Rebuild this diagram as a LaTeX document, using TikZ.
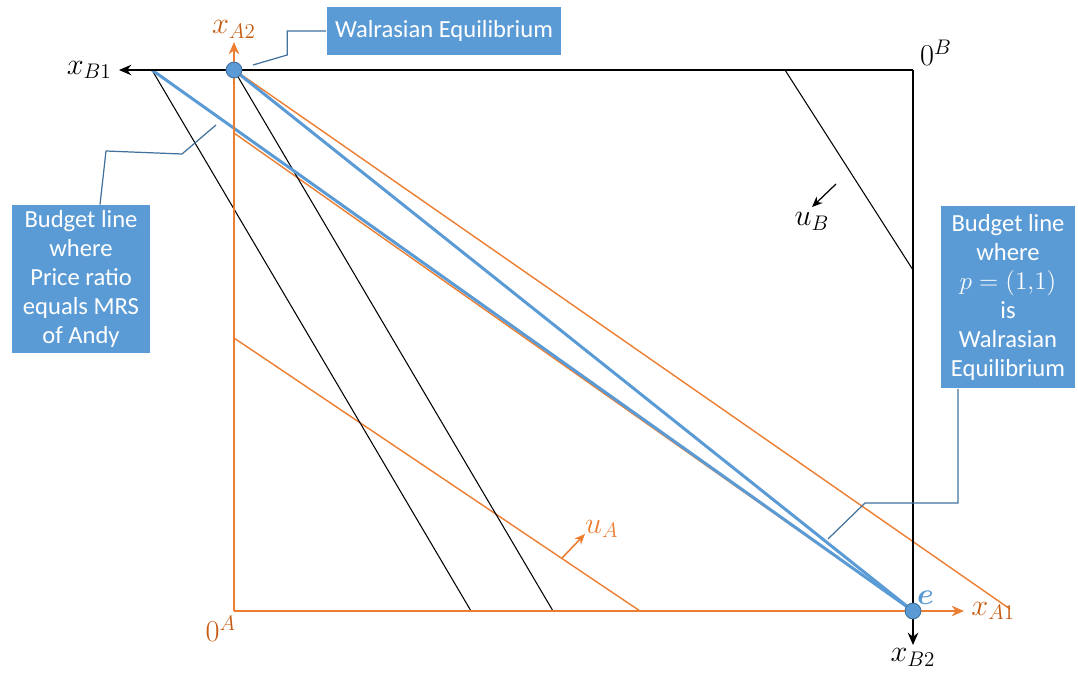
\documentclass[tikz,border=0pt]{standalone}
\usepackage{amsmath}
\usepackage{fontspec}
\setmainfont{Carlito}
\usepackage{tikz}
\usetikzlibrary{positioning,arrows.meta}
\definecolor{boxblue}{HTML}{5B9BD5}
\definecolor{leadblue}{HTML}{41719C}
\definecolor{axorange}{HTML}{ED7D31}
\definecolor{lblorange}{HTML}{C55A11}
\tikzset{every node/.style={font=\fontsize{14}{16.5}\selectfont}}

\begin{document}
\begin{tikzpicture}[
  x=0.02cm, y=-0.02cm,
  callout/.style={fill=boxblue, text=white, align=center, inner sep=2pt},
  leader/.style={draw=leadblue, line width=0.7pt},
  budget/.style={draw=boxblue, line width=1.7pt},
  indiffA/.style={draw=axorange, line width=0.8pt},
  indiffB/.style={draw=black, line width=0.6pt},
  axis/.style={line width=0.9pt, -{Stealth[length=7pt,width=6pt]}},
  mlabel/.style={font=\fontsize{17.5}{20}\selectfont, inner sep=1pt},
  dot/.style={circle, fill=boxblue, draw=leadblue, line width=0.5pt, inner sep=0pt, minimum size=9pt}
]
\useasboundingbox (0,0) rectangle (1078,676);

\coordinate (oA) at (234,611);
\coordinate (oB) at (913,70);
\coordinate (a1tip) at (964,611);
\coordinate (a2tip) at (234,42);
\coordinate (b1tip) at (119,70);
\coordinate (b2tip) at (913,645);

% indifference curves of A
\draw[indiffA] (236,71) -- (1010,609);
\draw[indiffA] (234,133) -- (913,611);
\draw[indiffA] (234,338) -- (640,611);

% indifference curves of B
\draw[indiffB] (152,70) -- (471,611);
\draw[indiffB] (234,70) -- (553,611);
\draw[indiffB] (785,70) -- (913,270);

% budget lines
\draw[budget] (152,70) -- (913,611);
\draw[budget] (234,70) -- (913,611);

% axes
\draw[axis, axorange] (oA) -- (a1tip);
\draw[axis, axorange] (oA) -- (a2tip);
\draw[axis, black] (oB) -- (b1tip);
\draw[axis, black] (oB) -- (b2tip);

\node[mlabel, text=lblorange, right=3pt of a1tip] (xa1) {$x_{A1}$};
\node[mlabel, text=lblorange, above=1pt of a2tip] (xa2) {$x_{A2}$};
\node[mlabel, left=3pt of b1tip] (xb1) {$x_{B1}$};
\node[mlabel, below=1pt of b2tip] (xb2) {$x_{B2}$};
\node[mlabel, anchor=south west] (zb) at (918,68) {$0^B$};
\node[mlabel, text=lblorange, anchor=north east] (za) at (238,614) {$0^A$};

% preference directions
\coordinate (uas) at (562,558);
\coordinate (uae) at (585,534);
\draw[axorange, line width=0.9pt, -{Stealth[length=6pt,width=5pt]}] (uas) -- (uae);
\node[mlabel, text=axorange, anchor=south west] (ua) at (583,540) {$u_A$};
\coordinate (ubs) at (836,184);
\coordinate (ube) at (812,207);
\draw[line width=0.7pt, -{Stealth[length=6pt,width=5pt]}] (ubs) -- (ube);
\node[mlabel, below=2pt of ube] (ub) {$u_B$};

% endowment and equilibrium
\node[dot] (wal) at (234,70) {};
\node[dot] (eq) at (913,611) {};
\node[mlabel, text=boxblue, anchor=south west] (el) at (915,607) {$\boldsymbol{e}$};

% callouts
\node[callout, minimum width=4.7cm, minimum height=0.96cm] (wbox) at (444,31)
{Walrasian Equilibrium};
\node[callout, minimum width=2.76cm, minimum height=2.96cm] (lbox) at (81,279)
{Budget line\\where\\Price ratio\\equals MRS\\of Andy};
\node[callout, minimum width=2.68cm, minimum height=3.66cm] (rbox) at (1008,297)
{Budget line\\where\\$p=(1{,}1)$\\is\\Walrasian\\Equilibrium};

\coordinate (wlead) at (253,65);
\coordinate (llead) at (216,125);
\coordinate (rlead) at (828,539);
\draw[leader] (wbox.west) -- ++(-39,0) -- ++(0,24) -- (wlead);
\draw[leader] ([xshift=0.38cm]lbox.north) -- (106,151) -- (182,154) -- (llead);
\draw[leader] ([xshift=-1cm]rbox.south) -- (958,503) -- (865,503) -- (rlead);

\end{tikzpicture}
\end{document}
